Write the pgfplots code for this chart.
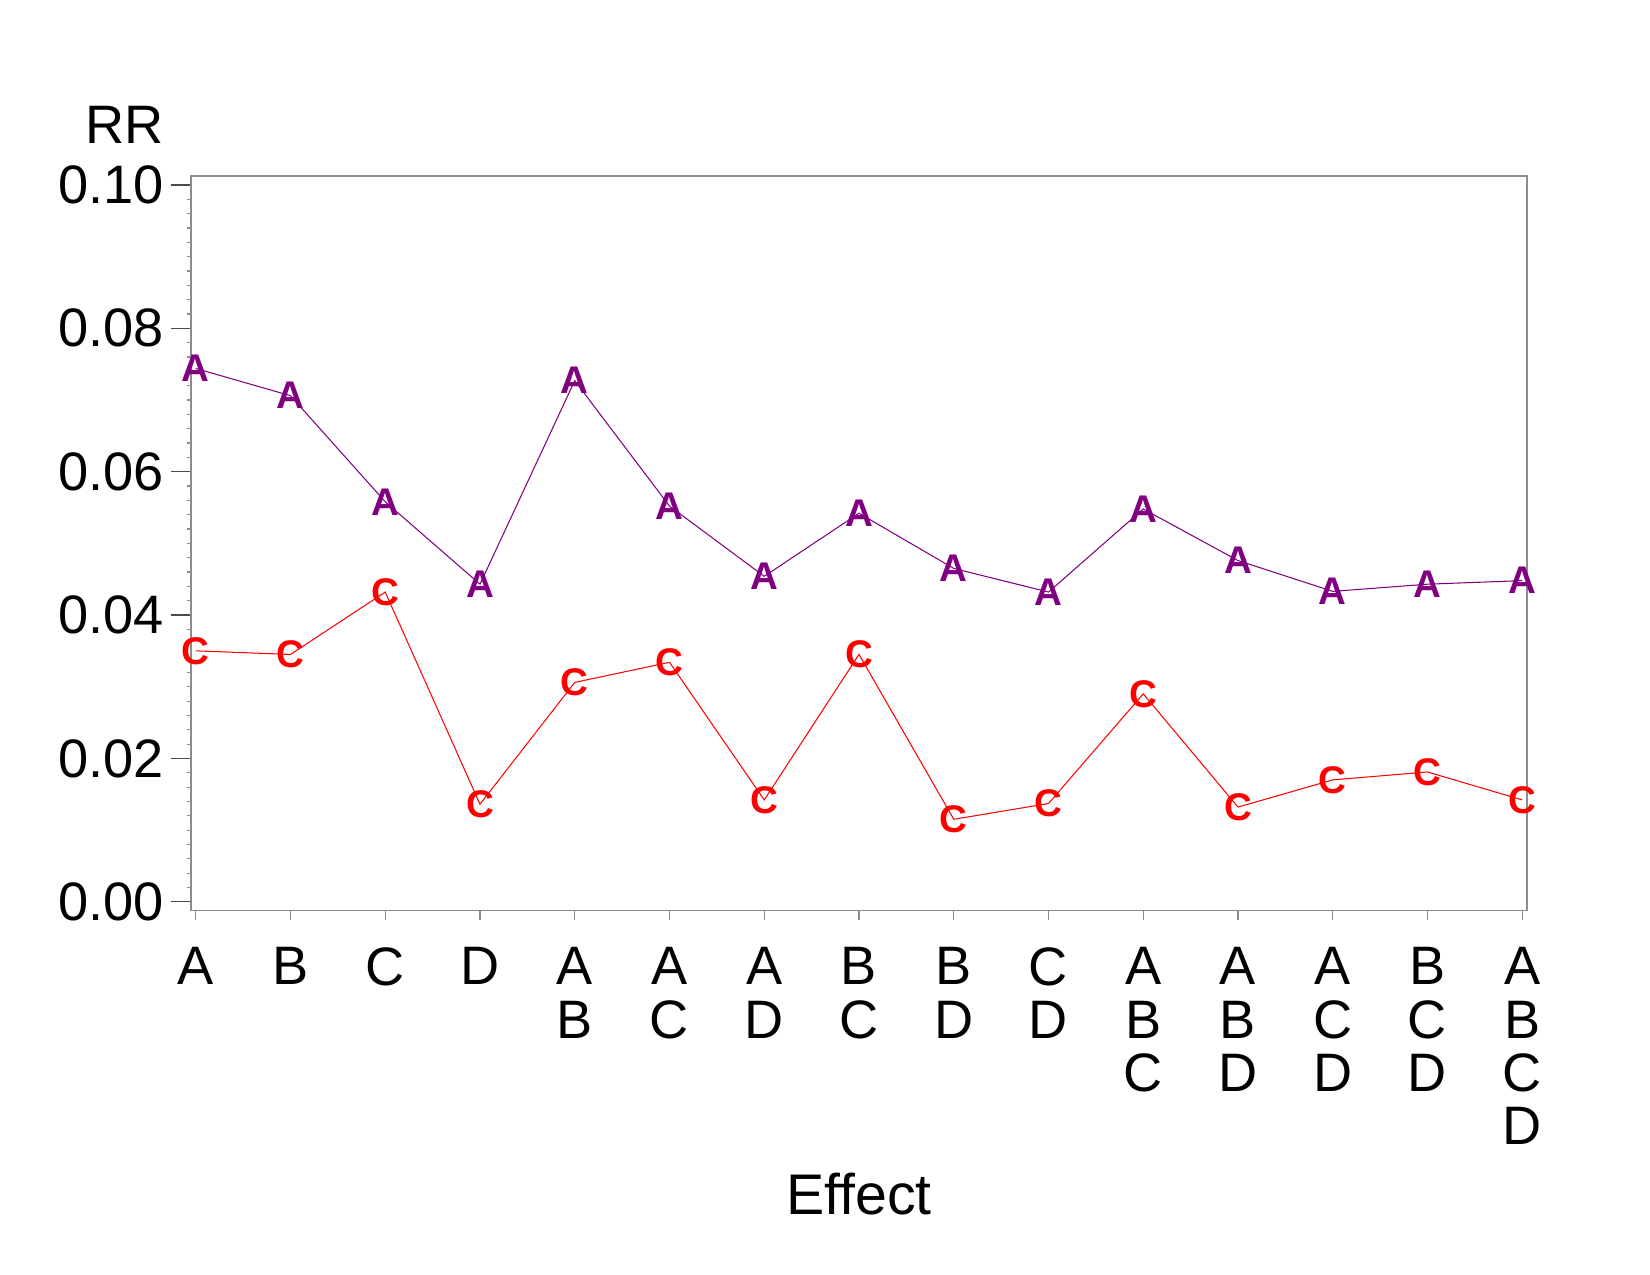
\documentclass[border=0pt]{standalone}
\usepackage{pgfplots}
\pgfplotsset{compat=1.18}
\usepackage{fontspec}
\setmainfont{Liberation Sans}
\definecolor{rrpurple}{RGB}{128,0,128}
\definecolor{rrred}{RGB}{255,0,0}
\definecolor{framegray}{RGB}{140,140,140}
\pgfdeclareplotmark{letA}{\pgftext{\color{rrpurple}\fontsize{18.5}{18.5}\selectfont\bfseries A}}
\pgfdeclareplotmark{letC}{\pgftext{\color{rrred}\fontsize{18.5}{18.5}\selectfont\bfseries C}}
\pgfplotstableread{
x y
0 0.0744
1 0.0706
2 0.0558
3 0.0443
4 0.0727
5 0.0552
6 0.0454
7 0.0542
8 0.0465
9 0.0432
10 0.0548
11 0.0476
12 0.0433
13 0.0443
14 0.0448
}\seriesA
\pgfplotstableread{
x y
0 0.0350
1 0.0345
2 0.0432
3 0.0136
4 0.0306
5 0.0334
6 0.0142
7 0.0345
8 0.0115
9 0.0137
10 0.0290
11 0.0132
12 0.0170
13 0.0181
14 0.0142
}\seriesC
\begin{document}
\begin{tikzpicture}
\useasboundingbox (-91.68pt,-174.86pt) rectangle (700.32pt,437.14pt);
\begin{axis}[
  scale only axis,
  width=641.28pt, height=352.66pt,
  xmin=-0.05, xmax=14.05,
  ymin=-0.001256, ymax=0.101256,
  axis line style={framegray, line width=0.6pt},
  xtick={0,...,14},
  xticklabels={A,B,C,D,{A\\B},{A\\C},{A\\D},{B\\C},{B\\D},{C\\D},{A\\B\\C},{A\\B\\D},{A\\C\\D},{B\\C\\D},{A\\B\\C\\D}},
  ytick={0,0.02,0.04,0.06,0.08,0.10},
  yticklabels={0.00,0.02,0.04,0.06,0.08,0.10},
  minor y tick num=9,
  xtick pos=bottom, ytick pos=left,
  tick align=outside,
  major tick length=9.6pt,
  minor tick length=2pt,
  x tick style={framegray, line width=0.6pt, /pgfplots/major tick length=4.4pt},
  y tick style={black!70, line width=0.7pt},
  minor y tick style={framegray, line width=0.5pt},
  x tick label style={font=\fontsize{26}{25.6}\selectfont, align=center, anchor=north, yshift=-4.5pt},
  y tick label style={font=\fontsize{26}{26}\selectfont, anchor=east},
  xlabel={Effect},
  xlabel style={font=\fontsize{27.5}{27.5}\selectfont, at={(rel axis cs:0.5,0)}, anchor=base, yshift=-145.6pt},
  clip=false,
]
\addplot[rrpurple, line width=0.5pt, mark=letA] table[x=x,y=y] {\seriesA};
\addplot[rrred, line width=0.5pt, mark=letC] table[x=x,y=y] {\seriesC};
\node[anchor=base east, inner sep=0pt, font=\fontsize{26}{26}\selectfont, xshift=-13pt, yshift=15.7pt] at (rel axis cs:0,1) {RR};
\end{axis}
\end{tikzpicture}
\end{document}
